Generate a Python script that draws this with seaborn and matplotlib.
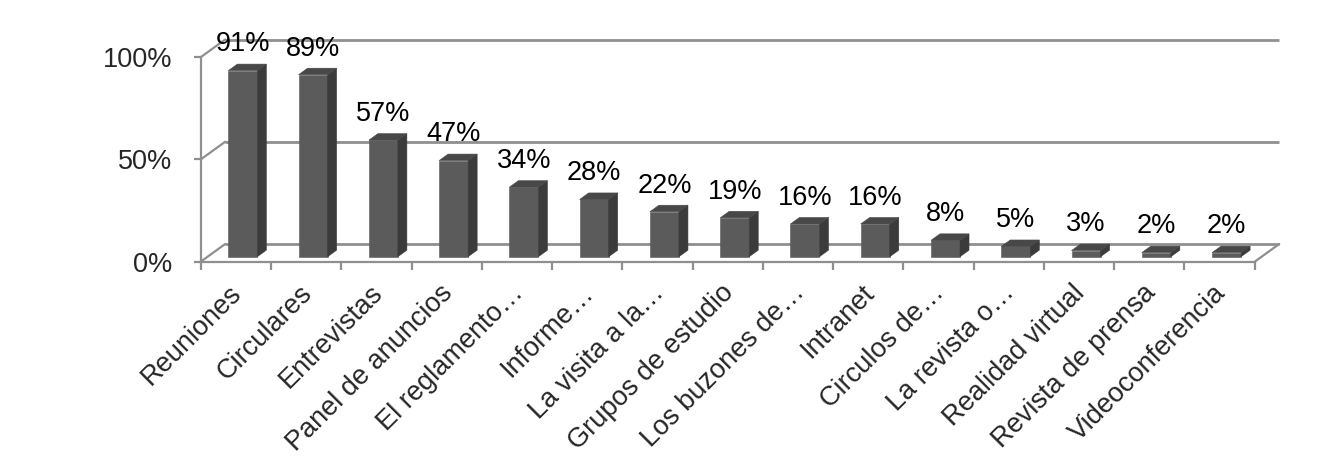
import matplotlib
matplotlib.use("Agg")
import matplotlib.pyplot as plt
from matplotlib.patches import Polygon
import seaborn as sns
import pandas as pd

# Survey results: share of respondents per communication channel (%)
categories = [
    "Reuniones", "Circulares", "Entrevistas", "Panel de anuncios",
    "El reglamento…", "Informe…", "La visita a la…", "Grupos de estudio",
    "Los buzones de…", "Intranet", "Circulos de…", "La revista o…",
    "Realidad virtual", "Revista de prensa", "Videoconferencia",
]
values = [91, 89, 57, 47, 34, 28, 22, 19, 16, 16, 8, 5, 3, 2, 2]
tick_values = [0, 50, 100]
tick_labels = ["0%", "50%", "100%"]

sns.set_style("white")
plt.rcParams["font.family"] = ["Liberation Sans", "DejaVu Sans"]

W, H = 1344, 458
fig = plt.figure(figsize=(W / 100, H / 100), dpi=100)

# pixel geometry of the bar plane
slot_px = 70.27          # width of one category slot
unit_px = 2.045          # pixels per percentage point
x0_px, y0_px = 242.8, 256.7   # centre of first bar / base of the bars

def px_dx(px):
    return px / slot_px

def px_dy(py):
    return -py / unit_px

# oblique offsets (pixels, y downward) of the chart's depth planes
front = (px_dx(-7.0), px_dy(5.0))      # front edge of the floor
back = (px_dx(17.5), px_dy(-12.7))     # back wall
depth = (px_dx(9.0), px_dy(-6.5))      # thickness of each bar

n = len(categories)
x_left = -0.5 + front[0]
x_right = n - 0.5 + front[0]
y_bottom = front[1]
y_top = px_dy(20 - y0_px)
x_max = px_dx(1300 - x0_px)

left_px, right_px = 200.7, 1300
ax = fig.add_axes([left_px / W, 1 - 261.7 / H,
                   (right_px - left_px) / W, (261.7 - 20) / H])

df = pd.DataFrame({"canal": categories, "pct": values})
sns.barplot(data=df, x="canal", y="pct", order=categories, color="#5b5b5b",
            saturation=1, width=0.413, ax=ax, zorder=3,
            edgecolor="#5b5b5b", linewidth=0.4)

grid_c = "#8f8f8f"

# back wall gridlines and left wall diagonals
for v in tick_values:
    ax.plot([-0.5 + back[0], n - 0.5 + back[0]], [v + back[1]] * 2,
            color=grid_c, lw=2.0, zorder=1, clip_on=False,
            solid_capstyle="butt")
    ax.plot([x_left, -0.5 + back[0]], [v + front[1], v + back[1]],
            color=grid_c, lw=1.6, zorder=1, clip_on=False)
# right edge of the floor
ax.plot([x_right, n - 0.5 + back[0]], [front[1], back[1]],
        color=grid_c, lw=1.6, zorder=1, clip_on=False)

# side and top faces of every bar
container = ax.containers[0]
for bar in container.patches:
    bx0 = bar.get_x()
    bx1 = bx0 + bar.get_width()
    h = bar.get_height()
    dx, dy = depth
    side = Polygon([(bx1, 0), (bx1 + dx, dy), (bx1 + dx, h + dy), (bx1, h)],
                   closed=True, facecolor="#3b3b3b", edgecolor="#3b3b3b",
                   lw=0.4, zorder=3)
    top = Polygon([(bx0, h), (bx1, h), (bx1 + dx, h + dy), (bx0 + dx, h + dy)],
                  closed=True, facecolor="#484848", edgecolor="#484848",
                  lw=0.4, zorder=3)
    ax.add_patch(side)
    ax.add_patch(top)

ax.bar_label(container, labels=[f"{v}%" for v in values], padding=9.5,
             fontsize=19.5, color="black", zorder=5)

ax.set_xlim(x_left, x_max)
ax.set_ylim(y_bottom, y_top)

# front axes
for s in ("top", "right"):
    ax.spines[s].set_visible(False)
for s in ("left", "bottom"):
    ax.spines[s].set_color(grid_c)
    ax.spines[s].set_linewidth(1.6)
ax.spines["left"].set_bounds(front[1], 100 + front[1])
ax.spines["bottom"].set_bounds(x_left, x_right)

ax.set_yticks([v + front[1] for v in tick_values])
ax.set_yticklabels(tick_labels, fontsize=19.5)
ax.tick_params(axis="y", length=5, width=1.6, color=grid_c, pad=15.5,
               left=True)

# category labels hang from a point just left of each slot centre
ax.set_xticks([i + front[0] - px_dx(7.0) for i in range(n)])
ax.set_xticklabels(categories, fontsize=19.5, rotation=45, ha="right",
                   rotation_mode="anchor")
ax.set_xticks([k - 0.5 + front[0] for k in range(n + 1)], minor=True)
ax.tick_params(axis="x", which="major", length=0, pad=13)
ax.tick_params(axis="x", which="minor", length=6, width=1.6, color=grid_c,
               bottom=True)
ax.set_xlabel("")
ax.set_ylabel("")
ax.grid(False)
ax.patch.set_alpha(0)

fig.savefig("out.png", dpi=100, facecolor="white")
